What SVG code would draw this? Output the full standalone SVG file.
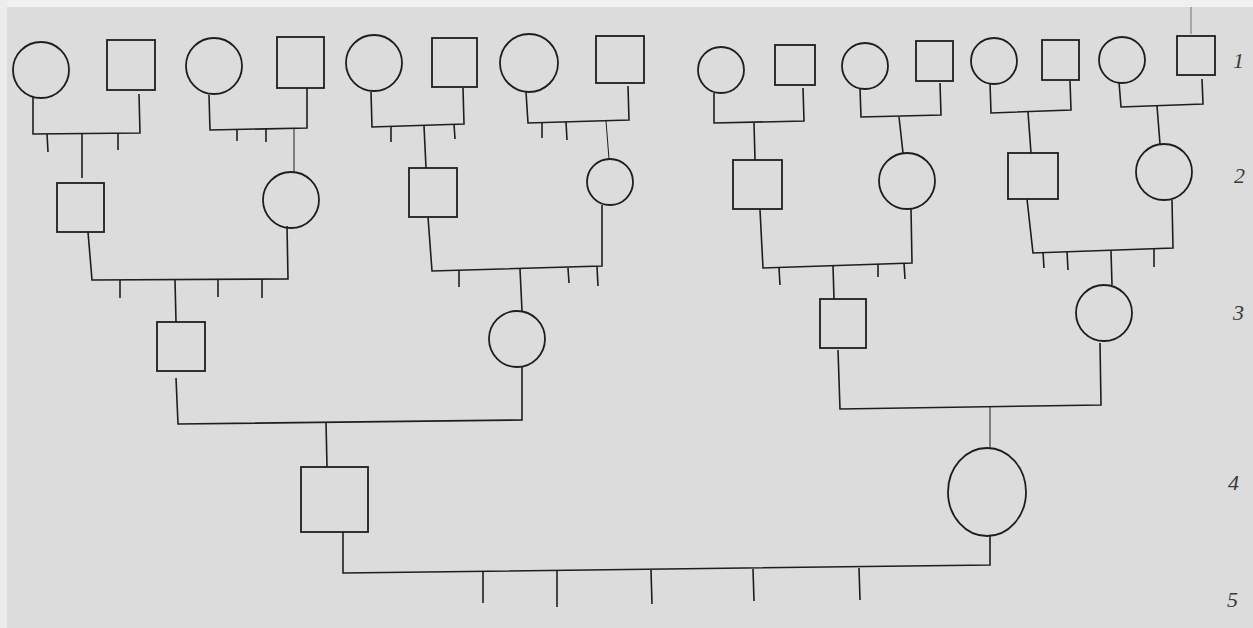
<svg xmlns="http://www.w3.org/2000/svg" width="1253" height="628" viewBox="0 0 1253 628">
<style>
.n{fill:none;stroke:#1e1e1e;stroke-width:1.8}
.c line,.c polyline{fill:none;stroke:#1e1e1e;stroke-width:1.6}
.t line{stroke:#1e1e1e;stroke-width:1.6}
.lbl{font-family:"Liberation Serif",serif;font-style:italic;font-size:22px;fill:#3a3a3a}
</style>
<rect x="0" y="0" width="1253" height="628" fill="#dcdcdc"/>
<rect x="0" y="0" width="1253" height="7" fill="#f0f0f0"/>
<rect x="0" y="0" width="7" height="628" fill="#ececec"/>

<g id="g1-f1"><circle class="n" cx="41" cy="70" r="28"/></g>
<g id="g1-m1"><rect class="n" x="107" y="40" width="48" height="50"/></g>
<g id="g1-f2"><circle class="n" cx="214" cy="66" r="28"/></g>
<g id="g1-m2"><rect class="n" x="277" y="37" width="47" height="51"/></g>
<g id="g1-f3"><circle class="n" cx="374" cy="63" r="28"/></g>
<g id="g1-m3"><rect class="n" x="432" y="38" width="45" height="49"/></g>
<g id="g1-f4"><circle class="n" cx="529" cy="63" r="29"/></g>
<g id="g1-m4"><rect class="n" x="596" y="36" width="48" height="47"/></g>
<g id="g1-f5"><circle class="n" cx="721" cy="70" r="23"/></g>
<g id="g1-m5"><rect class="n" x="775" y="45" width="40" height="40"/></g>
<g id="g1-f6"><circle class="n" cx="865" cy="66" r="23"/></g>
<g id="g1-m6"><rect class="n" x="916" y="41" width="37" height="40"/></g>
<g id="g1-f7"><circle class="n" cx="994" cy="61" r="23"/></g>
<g id="g1-m7"><rect class="n" x="1042" y="40" width="37" height="40"/></g>
<g id="g1-f8"><circle class="n" cx="1122" cy="60" r="23"/></g>
<g id="g1-m8"><rect class="n" x="1177" y="36" width="38" height="39"/></g>

<g id="g2-m1"><rect class="n" x="57" y="183" width="47" height="49"/></g>
<g id="g2-f2"><circle class="n" cx="291" cy="200" r="28"/></g>
<g id="g2-m3"><rect class="n" x="409" y="168" width="48" height="49"/></g>
<g id="g2-f4"><circle class="n" cx="610" cy="182" r="23"/></g>
<g id="g2-m5"><rect class="n" x="733" y="160" width="49" height="49"/></g>
<g id="g2-f6"><circle class="n" cx="907" cy="181" r="28"/></g>
<g id="g2-m7"><rect class="n" x="1008" y="153" width="50" height="46"/></g>
<g id="g2-f8"><circle class="n" cx="1164" cy="172" r="28"/></g>

<g id="g3-m1"><rect class="n" x="157" y="322" width="48" height="49"/></g>
<g id="g3-f2"><circle class="n" cx="517" cy="339" r="28"/></g>
<g id="g3-m3"><rect class="n" x="820" y="299" width="46" height="49"/></g>
<g id="g3-f4"><circle class="n" cx="1104" cy="313" r="28"/></g>

<g id="g4-m1"><rect class="n" x="301" y="467" width="67" height="65"/></g>
<g id="g4-f2"><ellipse class="n" cx="987" cy="492" rx="39" ry="44"/></g>

<g id="connectors" class="c">
  <line x1="1191" y1="7" x2="1191" y2="34" style="stroke-width:0.8;stroke:#555"/>
  <polyline points="33,97 33,134 140,133 139,94"/>
  <line x1="82" y1="134" x2="82" y2="178"/>
  <polyline points="209,95 210,130 307,128 307,88"/>
  <line x1="294" y1="129" x2="294" y2="172" style="stroke-width:1"/>
  <polyline points="371,92 372,127 464,124 463,88"/>
  <line x1="424" y1="126" x2="426" y2="168"/>
  <polyline points="526,92 528,123 629,120 628,86"/>
  <line x1="606" y1="121" x2="609" y2="159" style="stroke-width:1"/>
  <polyline points="714,93 714,123 804,121 803,88"/>
  <line x1="754" y1="123" x2="755" y2="160"/>
  <polyline points="860,88 861,117 941,115 940,83"/>
  <line x1="899" y1="117" x2="903" y2="153"/>
  <polyline points="990,83 991,113 1071,110 1070,81"/>
  <line x1="1028" y1="112" x2="1031" y2="153"/>
  <polyline points="1119,82 1121,107 1203,104 1202,79"/>
  <line x1="1157" y1="106" x2="1160" y2="144"/>
  <polyline points="88,232 92,280 288,279 287,226"/>
  <line x1="175" y1="280" x2="176" y2="322"/>
  <polyline points="428,217 432,271 602,266 602,205"/>
  <line x1="520" y1="269" x2="522" y2="311"/>
  <polyline points="760,210 763,268 912,263 911,209"/>
  <line x1="833" y1="266" x2="834" y2="299"/>
  <polyline points="1027,199 1033,253 1173,248 1172,200"/>
  <line x1="1111" y1="251" x2="1112" y2="285"/>
  <polyline points="176,378 178,424 522,420 522,367"/>
  <line x1="326" y1="422" x2="327" y2="467"/>
  <polyline points="838,350 840,409 1101,405 1100,343"/>
  <line x1="990" y1="407" x2="990" y2="448" style="stroke-width:1"/>
  <polyline points="343,532 343,573 990,565 990,536"/>
</g>

<g id="ticks" class="t">
  <line x1="47" y1="134" x2="48" y2="152"/>
  <line x1="118" y1="134" x2="118" y2="150"/>
  <line x1="237" y1="130" x2="237" y2="141"/>
  <line x1="266" y1="129" x2="266" y2="142"/>
  <line x1="391" y1="126" x2="391" y2="142"/>
  <line x1="454" y1="124" x2="455" y2="139"/>
  <line x1="542" y1="122" x2="542" y2="138"/>
  <line x1="566" y1="122" x2="567" y2="140"/>
  <line x1="120" y1="280" x2="120" y2="298"/>
  <line x1="218" y1="280" x2="218" y2="297"/>
  <line x1="262" y1="279" x2="262" y2="298"/>
  <line x1="459" y1="270" x2="459" y2="287"/>
  <line x1="568" y1="268" x2="569" y2="283"/>
  <line x1="597" y1="267" x2="598" y2="286"/>
  <line x1="779" y1="268" x2="780" y2="285"/>
  <line x1="878" y1="264" x2="878" y2="277"/>
  <line x1="904" y1="263" x2="905" y2="279"/>
  <line x1="1043" y1="252" x2="1044" y2="268"/>
  <line x1="1067" y1="251" x2="1068" y2="270"/>
  <line x1="1154" y1="249" x2="1154" y2="267"/>
  <line x1="483" y1="572" x2="483" y2="603"/>
  <line x1="557" y1="571" x2="557" y2="607"/>
  <line x1="651" y1="570" x2="652" y2="604"/>
  <line x1="753" y1="569" x2="754" y2="601"/>
  <line x1="859" y1="568" x2="860" y2="600"/>
</g>

<g id="labels">
  <text class="lbl" x="1233" y="68">1</text>
  <text class="lbl" x="1234" y="183">2</text>
  <text class="lbl" x="1233" y="320">3</text>
  <text class="lbl" x="1228" y="490">4</text>
  <text class="lbl" x="1227" y="607">5</text>
</g>
</svg>
